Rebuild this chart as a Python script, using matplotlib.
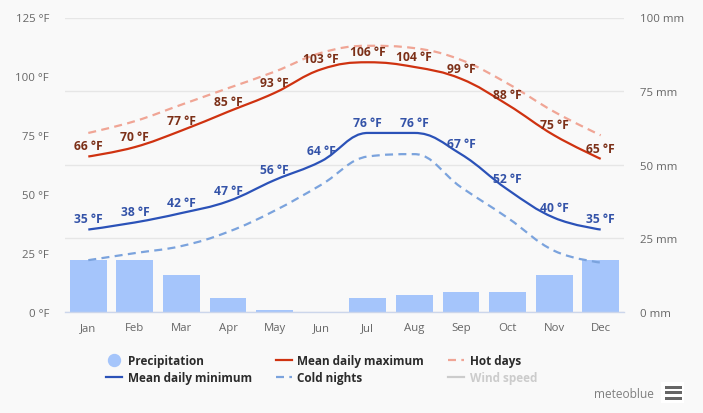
import matplotlib
matplotlib.use('Agg')
import matplotlib.pyplot as plt
from matplotlib.lines import Line2D
from matplotlib.patches import PathPatch, Rectangle
from matplotlib.path import Path

plt.rcParams['font.family'] = ['Open Sans', 'DejaVu Sans']

months = ['Jan', 'Feb', 'Mar', 'Apr', 'May', 'Jun', 'Jul', 'Aug', 'Sep', 'Oct', 'Nov', 'Dec']
precipitation = [17.6, 17.6, 12.6, 4.8, 0.7, 0, 4.8, 5.8, 6.8, 6.8, 12.6, 17.6]
mean_max = [66, 70, 77, 85, 93, 103, 106, 104, 99, 88, 75, 65]
mean_min = [35, 38, 42, 47, 56, 64, 76, 76, 67, 52, 40, 35]
hot_days = [76, 81, 88, 95, 102, 110, 113, 112, 107, 97, 85, 75]
cold_nights = [22, 25, 28, 34, 43, 54, 66, 67, 53, 40, 26, 21]
temp_ticks = [0, 25, 50, 75, 100, 125]
mm_ticks = [0, 25, 50, 75, 100]

BG = '#f9f9f9'
GRID = '#e6e6e6'
TICK = '#666666'
BAR = '#a5c5fb'
RED = '#cf3210'
BLUE = '#2b52b8'
PINK = '#f0a595'
LIGHTBLUE = '#7ba3dd'
RED_TEXT = '#7c3018'
BLUE_TEXT = '#3453a8'
DASH = (3.6, 2.4)


def spline_path(ys):
    # same control points as a highcharts spline
    xs = list(range(len(ys)))
    verts = [(xs[0], ys[0])]
    codes = [Path.MOVETO]
    right = (xs[0], ys[0])
    for i in range(1, len(ys)):
        x, y = xs[i], ys[i]
        if i < len(ys) - 1:
            lx = (1.5 * x + xs[i - 1]) / 2.5
            ly = (1.5 * y + ys[i - 1]) / 2.5
            rx = (1.5 * x + xs[i + 1]) / 2.5
            ry = (1.5 * y + ys[i + 1]) / 2.5
            corr = (ry - ly) * (rx - x) / (rx - lx) + y - ry
            ly += corr
            ry += corr
            if ly > max(ys[i - 1], y):
                ly = max(ys[i - 1], y)
                ry = 2 * y - ly
            elif ly < min(ys[i - 1], y):
                ly = min(ys[i - 1], y)
                ry = 2 * y - ly
            if ry > max(ys[i + 1], y):
                ry = max(ys[i + 1], y)
                ly = 2 * y - ry
            elif ry < min(ys[i + 1], y):
                ry = min(ys[i + 1], y)
                ly = 2 * y - ry
        else:
            lx, ly, rx, ry = x, y, x, y
        verts += [right, (lx, ly), (x, y)]
        codes += [Path.CURVE4] * 3
        right = (rx, ry)
    return Path(verts, codes)


def add_spline(ax, ys, color, dashes=None):
    patch = PathPatch(spline_path(ys), fill=False, edgecolor=color, lw=1.6, capstyle='butt')
    if dashes:
        patch.set_linestyle((0, dashes))
    ax.add_patch(patch)


fig = plt.figure(figsize=(7.03, 4.14), dpi=100, facecolor=BG)
ax = fig.add_axes([65 / 703, 1 - 313 / 414, 559 / 703, 294.5 / 414])
ax2 = ax.twinx()
ax.set_zorder(2)
ax.patch.set_visible(False)
ax2.set_facecolor(BG)

ax2.bar(range(12), precipitation, width=0.79, color=BAR, zorder=2)
ax2.set_ylim(0, 100)
ax2.set_yticks(mm_ticks)
ax2.set_yticklabels(['%d mm' % v for v in mm_ticks])

add_spline(ax, hot_days, PINK, DASH)
add_spline(ax, cold_nights, LIGHTBLUE, DASH)
add_spline(ax, mean_max, RED)
add_spline(ax, mean_min, BLUE)

ax.set_xlim(-0.5, 11.5)
ax.set_ylim(0, 125)
ax.set_xticks(range(12))
ax.set_xticklabels(months)
ax.set_yticks(temp_ticks)
ax.set_yticklabels(['%d °F' % v for v in temp_ticks])
ax2.yaxis.grid(True, color=GRID, lw=1)
ax2.set_axisbelow(True)

for a in (ax, ax2):
    for s in a.spines.values():
        s.set_visible(False)
    a.tick_params(length=0, labelsize=8.2, labelcolor=TICK)
ax.tick_params(axis='y', pad=11.5)
ax.tick_params(axis='x', pad=7.2)
ax2.tick_params(axis='y', pad=11.5)
ax.spines['bottom'].set_visible(True)
ax.spines['bottom'].set_color('#ccd6eb')
ax.spines['bottom'].set_linewidth(1)

for i in range(12):
    ax.annotate('%d °F' % mean_max[i], (i, mean_max[i]), xytext=(0, 7.6), textcoords='offset points',
                ha='center', va='center', fontsize=8.7, fontweight='bold', color=RED_TEXT)
    ax.annotate('%d °F' % mean_min[i], (i, mean_min[i]), xytext=(0, 7.6), textcoords='offset points',
                ha='center', va='center', fontsize=8.7, fontweight='bold', color=BLUE_TEXT)

handles = [
    Line2D([], [], ls='none', marker='o', ms=8.6, color=BAR, label='Precipitation'),
    Line2D([], [], color=BLUE, lw=1.6, label='Mean daily minimum'),
    Line2D([], [], color=RED, lw=1.6, label='Mean daily maximum'),
    Line2D([], [], color=LIGHTBLUE, lw=1.6, dashes=DASH, label='Cold nights'),
    Line2D([], [], color=PINK, lw=1.6, dashes=DASH, label='Hot days'),
    Line2D([], [], color='#cccccc', lw=1.6, label='Wind speed'),
]
leg = fig.legend(handles=handles, ncol=3, loc='upper left', bbox_to_anchor=(106 / 703, 1 - 355 / 414),
                 frameon=False, prop={'size': 8.5, 'weight': 'bold'}, handlelength=1.35,
                 handletextpad=0.5, columnspacing=2.0, labelspacing=0.35,
                 borderpad=0, borderaxespad=0)
for t in leg.get_texts():
    t.set_color('#2b2b2b')
leg.get_texts()[5].set_color('#cccccc')

fig.text(654 / 703, 1 - 395 / 414, 'meteoblue', ha='right', va='center', fontsize=8.6, color='#7f7f7f')
fig.add_artist(Rectangle((661 / 703, 1 - 404 / 414), 23 / 703, 21 / 414, transform=fig.transFigure,
                         facecolor='white', edgecolor='none'))
for y in (388, 393.5, 399):
    fig.add_artist(Rectangle((665 / 703, 1 - (y + 1.5) / 414), 17 / 703, 3 / 414, transform=fig.transFigure,
                             facecolor='#666666', edgecolor='none'))

fig.savefig('out.png', dpi=100, facecolor=BG)
